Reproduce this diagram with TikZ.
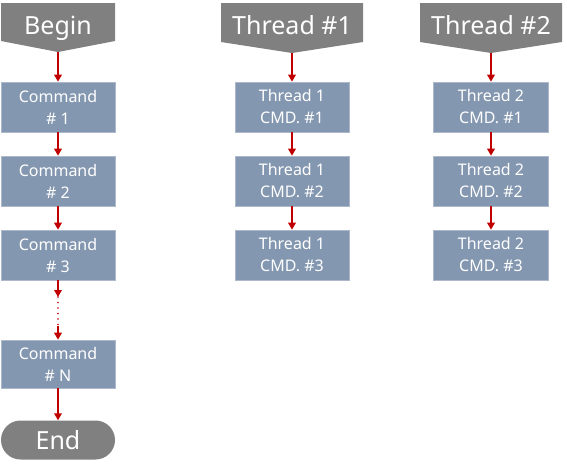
\documentclass[tikz,border=0pt]{standalone}
\usepackage{fontspec}
\setmainfont{Noto Sans}
\usetikzlibrary{arrows.meta}
\definecolor{hdrgray}{HTML}{808080}
\definecolor{boxblue}{HTML}{8497B0}
\definecolor{boxline}{HTML}{ADB9CA}
\definecolor{flowred}{HTML}{C00000}
\begin{document}
\begin{tikzpicture}[x=1pt,y=-1pt,
  cmdbox/.style={fill=boxblue,draw=boxline,line width=0.6pt,minimum height=50pt,
    align=center,text=white,inner sep=0pt,font=\fontsize{16}{22}\selectfont},
  hdrtext/.style={text=white,inner sep=0pt,anchor=base,font=\fontsize{25}{30}\selectfont},
  flow/.style={draw=flowred,line width=1.8pt,-{Triangle[length=7pt,width=7.5pt]}}]
\useasboundingbox (0,0) rectangle (567,472);
% headers
\fill [hdrgray] (1,3) -- (115,3) -- (115,41) -- (58,52) -- (1,41) -- cycle;
\node [hdrtext] (begin) at (58,34) {Begin};
\coordinate (begintip) at (58,52);
\fill [hdrgray] (221,3) -- (363,3) -- (363,42) -- (292,53) -- (221,42) -- cycle;
\node [hdrtext] (thaone) at (292,34) {Thread \#1};
\coordinate (thaonetip) at (292,53);
\fill [hdrgray] (420,3) -- (562,3) -- (562,42) -- (491,53) -- (420,42) -- cycle;
\node [hdrtext] (thatwo) at (491,34) {Thread \#2};
\coordinate (thatwotip) at (491,53);
% main column
\node [cmdbox,minimum width=114pt] (cmdone) at (58,107) {Command\\\# 1};
\node [cmdbox,minimum width=114pt] (cmdtwo) at (58,181) {Command\\\# 2};
\node [cmdbox,minimum width=114pt] (cmdthree) at (58,255) {Command\\\# 3};
\node [cmdbox,minimum width=114pt,minimum height=48pt] (cmdn) at (58,364) {Command\\\# N};
\node [fill=hdrgray,rounded corners=19.5pt,minimum width=114pt,minimum height=39pt,
  inner sep=0pt,text=white,font=\fontsize{25}{30}\selectfont] (end) at (58,440) {End};
\coordinate (dotstart) at (58,297);
\coordinate (dotend) at (58,326);
\draw [flow] (begintip) -- (cmdone);
\draw [flow] (cmdone) -- (cmdtwo);
\draw [flow] (cmdtwo) -- (cmdthree);
\draw [flow] (cmdthree) -- (dotstart);
\draw [draw=flowred,line width=1.8pt,line cap=round,dash pattern=on 0pt off 5.5pt]
  (dotstart) -- (dotend);
\draw [flow] (dotend) -- (cmdn);
\draw [flow] (cmdn) -- (end);
% thread 1
\node [cmdbox,minimum width=114pt] (tonecmdone) at (292,107) {Thread 1\\CMD. \#1};
\node [cmdbox,minimum width=114pt] (tonecmdtwo) at (292,181) {Thread 1\\CMD. \#2};
\node [cmdbox,minimum width=114pt] (tonecmdthree) at (292,255) {Thread 1\\CMD. \#3};
\draw [flow] (thaonetip) -- (tonecmdone);
\draw [flow] (tonecmdone) -- (tonecmdtwo);
\draw [flow] (tonecmdtwo) -- (tonecmdthree);
% thread 2
\node [cmdbox,minimum width=115pt] (ttwocmdone) at (491,107) {Thread 2\\CMD. \#1};
\node [cmdbox,minimum width=115pt] (ttwocmdtwo) at (491,181) {Thread 2\\CMD. \#2};
\node [cmdbox,minimum width=115pt] (ttwocmdthree) at (491,255) {Thread 2\\CMD. \#3};
\draw [flow] (thatwotip) -- (ttwocmdone);
\draw [flow] (ttwocmdone) -- (ttwocmdtwo);
\draw [flow] (ttwocmdtwo) -- (ttwocmdthree);
\end{tikzpicture}
\end{document}
